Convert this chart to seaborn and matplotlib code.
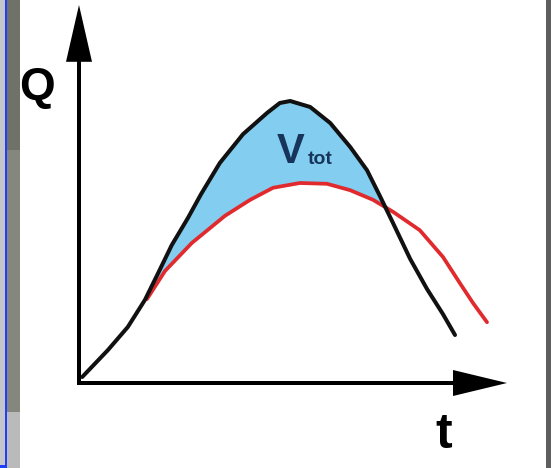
import numpy as np
import pandas as pd
import matplotlib.pyplot as plt
from matplotlib.patches import Rectangle
import seaborn as sns

# ===============================
# DATA (t, Q)
# ===============================
black_t = [0.08, 0.72, 1.22, 1.65, 1.98, 2.32, 2.72, 3.05, 3.52, 4.10, 4.70,
           5.02, 5.28, 5.78, 6.28, 6.78, 7.20, 7.52, 7.85, 8.28, 8.70, 9.10, 9.40]
black_q = [0.15, 0.82, 1.40, 2.08, 2.75, 3.45, 4.12, 4.72, 5.50, 6.22, 6.75,
           7.00, 7.05, 6.90, 6.50, 5.90, 5.32, 4.68, 4.00, 3.10, 2.35, 1.72, 1.20]

red_t = [1.70, 2.15, 2.82, 3.65, 4.28, 4.85, 5.52, 6.20, 6.78, 7.35, 7.85,
         8.52, 9.10, 9.52, 9.85, 10.20]
red_q = [2.10, 2.80, 3.50, 4.18, 4.58, 4.88, 5.00, 4.98, 4.82, 4.58, 4.28,
         3.82, 3.15, 2.50, 2.00, 1.52]

axis_labels = ["t", "Q"]
area_label = ("V", "tot")

# ===============================
# STYLE
# ===============================
sns.set_style("white")
plt.rcParams['font.family'] = ['Liberation Sans', 'DejaVu Sans']

W, H = 551, 468
fig = plt.figure(figsize=(W / 100, H / 100), dpi=100)
ax = fig.add_axes([0, 0, 1, 1])
ax.set_xlim(-79 / 40, (W - 79) / 40)
ax.set_ylim((383 - H) / 40, 383 / 40)
ax.axis('off')

# slide frame around the white panel
def frame(x0, y0, x1, y1, color):
    fig.add_artist(Rectangle((x0 / W, 1 - y1 / H), (x1 - x0) / W, (y1 - y0) / H,
                             transform=fig.transFigure, color=color, lw=0, zorder=0))

frame(0, 0, 5, H, '#c4c6cc')
frame(7, 0, 20, 150, '#6e7268')
frame(7, 150, 20, 412, '#85867d')
frame(7, 412, 20, H, '#bababa')
frame(5, 0, 7, H, '#1f3dff')
frame(0, 465, 7, H, '#1f3dff')
frame(546, 0, W, H, '#5e5e5e')

# ===============================
# SHADED VOLUME
# ===============================
grid = np.linspace(red_t[0], 7.6, 200)
top = np.interp(grid, black_t, black_q)
bottom = np.interp(grid, red_t, red_q)
ax.fill_between(grid, bottom, top, where=top >= bottom, color='#82cdf0',
                lw=0, zorder=1)

# ===============================
# CURVES
# ===============================
red_df = pd.DataFrame({'t': red_t, 'Q': red_q})
black_df = pd.DataFrame({'t': black_t, 'Q': black_q})
sns.lineplot(data=red_df, x='t', y='Q', sort=False, ax=ax, color='#e02a2e',
             lw=2.7, solid_capstyle='round', solid_joinstyle='round', zorder=2)
sns.lineplot(data=black_df, x='t', y='Q', sort=False, ax=ax, color='#111111',
             lw=2.9, solid_capstyle='round', solid_joinstyle='round', zorder=3)

# ===============================
# AXES ARROWS + LABELS
# ===============================
ax.arrow(-0.05, 0, 10.75, 0, width=0.1, head_width=0.65, head_length=1.35,
         length_includes_head=True, color='black', lw=0, zorder=4)
ax.arrow(0, -0.05, 0, 9.5, width=0.1, head_width=0.65, head_length=1.42,
         length_includes_head=True, color='black', lw=0, zorder=4)

ax.text(9.12, -1.62, axis_labels[0], fontsize=36, fontweight='bold',
        ha='center', va='baseline', color='black')
ax.text(-1.5, 7.08, axis_labels[1], fontsize=33, fontweight='bold',
        ha='left', va='baseline', color='black')
ax.text(4.95, 5.5, area_label[0], fontsize=30, fontweight='bold',
        ha='left', va='baseline', color='#17345a')
ax.text(5.72, 5.47, area_label[1], fontsize=14, fontweight='bold',
        ha='left', va='baseline', color='#17345a')

ax.set_xlabel('')
ax.set_ylabel('')
fig.savefig("out.png", dpi=100)
